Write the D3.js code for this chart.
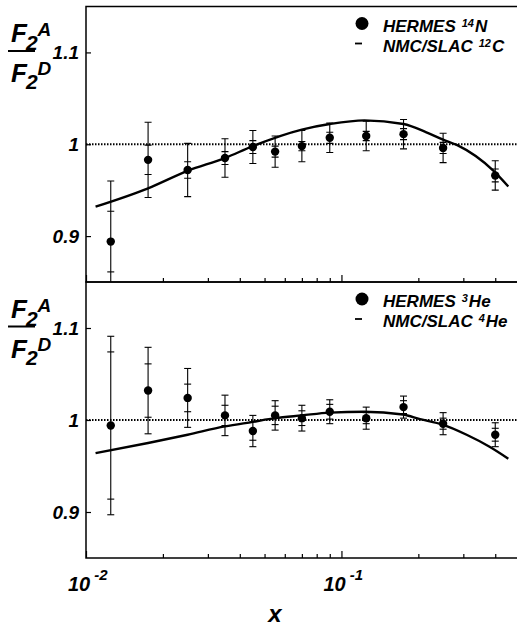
<!DOCTYPE html>
<html>
<head>
<meta charset="utf-8">
<title>F2A/F2D - HERMES vs NMC/SLAC</title>
<script src="https://d3js.org/d3.v7.min.js"></script>
<style>
  body { margin: 0; background: #fff; }
  text { font-family: "Liberation Sans", Arial, sans-serif; font-weight: bold; font-style: italic; fill: #000; }
</style>
</head>
<body>
<svg width="517" height="626"></svg>
<script>
  // x bins shared by both HERMES data sets
  const xBins = [0.0125, 0.0175, 0.025, 0.035, 0.045, 0.055, 0.070, 0.090, 0.125, 0.175, 0.25, 0.40];

  // HERMES 14N / D
  const n14Ratio = [0.894, 0.983, 0.972, 0.985, 0.997, 0.992, 0.998, 1.007, 1.009, 1.011, 0.996, 0.966];
  const n14Stat  = [0.033, 0.016, 0.009, 0.007, 0.007, 0.006, 0.005, 0.006, 0.005, 0.006, 0.006, 0.007];
  const n14Tot   = [0.066, 0.041, 0.029, 0.021, 0.018, 0.017, 0.017, 0.016, 0.016, 0.016, 0.016, 0.016];

  // HERMES 3He / D
  const he3Ratio = [0.994, 1.032, 1.024, 1.005, 0.988, 1.005, 1.002, 1.009, 1.002, 1.014, 0.996, 0.984];
  const he3Stat  = [0.080, 0.029, 0.015, 0.011, 0.010, 0.010, 0.008, 0.008, 0.006, 0.007, 0.006, 0.007];
  const he3Tot   = [0.097, 0.047, 0.032, 0.022, 0.017, 0.016, 0.014, 0.013, 0.012, 0.012, 0.012, 0.013];

  // NMC/SLAC 12C fit
  const c12X = [0.0109, 0.0175, 0.025, 0.035, 0.045, 0.070, 0.090, 0.123, 0.175, 0.215, 0.25, 0.284, 0.394, 0.45];
  const c12Y = [0.932, 0.952, 0.971, 0.985, 0.998, 1.016, 1.022, 1.026, 1.022, 1.013, 1.005, 0.999, 0.971, 0.954];

  // NMC/SLAC 4He fit
  const he4X = [0.0109, 0.0175, 0.025, 0.035, 0.045, 0.055, 0.070, 0.090, 0.123, 0.174, 0.203, 0.249, 0.309, 0.38, 0.45];
  const he4Y = [0.964, 0.975, 0.984, 0.993, 0.998, 1.002, 1.005, 1.008, 1.009, 1.006, 1.001, 0.995, 0.984, 0.971, 0.958];

  const yTicks = [0.9, 1.0, 1.1];
  const xMajor = [0.01, 0.1];
  const xMajorExp = ["-2", "-1"];
  const xMinor = [0.02, 0.03, 0.04, 0.05, 0.06, 0.07, 0.08, 0.09, 0.2, 0.3, 0.4];

  const svg = d3.select("svg");
  svg.append("rect").attr("width", 517).attr("height", 626).attr("fill", "#fff");

  const left = 86, right = 520;
  const x = d3.scaleLog().domain([0.01, 0.5]).range([left, right]);

  const panels = [
    { top: 6.5, bottom: 282, ratio: n14Ratio, stat: n14Stat, tot: n14Tot, cx: c12X, cy: c12Y,
      leg1: ["HERMES", "14", "N"], leg2: ["NMC/SLAC", "12", "C"] },
    { top: 282, bottom: 558, ratio: he3Ratio, stat: he3Stat, tot: he3Tot, cx: he4X, cy: he4Y,
      leg1: ["HERMES", "3", "He"], leg2: ["NMC/SLAC", "4", "He"] }
  ];

  // writes base + superscript + element as separate text pieces
  function isotope(parent, x0, y0, parts) {
    const a = parent.append("text").attr("x", x0).attr("y", y0).attr("font-size", 17).text(parts[0]);
    const x1 = x0 + a.node().getComputedTextLength() + 6;
    const b = parent.append("text").attr("x", x1).attr("y", y0 - 5).attr("font-size", 11).text(parts[1]);
    const x2 = x1 + b.node().getComputedTextLength() + 1;
    parent.append("text").attr("x", x2).attr("y", y0).attr("font-size", 17).text(parts[2]);
  }

  panels.forEach(function(p, pi) {
    const y = d3.scaleLinear().domain([0.85, 1.15]).range([p.bottom, p.top]);
    const g = svg.append("g");

    const clipId = "clip" + pi;
    svg.append("clipPath").attr("id", clipId)
      .append("rect").attr("x", left).attr("y", p.top).attr("width", right - left).attr("height", p.bottom - p.top);

    // dotted line at ratio 1
    g.append("line")
      .attr("x1", left).attr("x2", right)
      .attr("y1", y(1)).attr("y2", y(1))
      .attr("stroke", "#000").attr("stroke-width", 2)
      .attr("stroke-dasharray", "1.5,1.5");

    // NMC/SLAC fit
    const line = d3.line().x(d => x(d[0])).y(d => y(d[1])).curve(d3.curveMonotoneX);
    g.append("path")
      .datum(d3.zip(p.cx, p.cy))
      .attr("d", line)
      .attr("fill", "none")
      .attr("stroke", "#000")
      .attr("stroke-width", 2.4);

    // HERMES error bars and points
    const pts = g.append("g").attr("clip-path", "url(#" + clipId + ")");
    xBins.forEach(function(xv, i) {
      const px = x(xv), r = p.ratio[i];
      pts.append("line")
        .attr("x1", px).attr("x2", px)
        .attr("y1", y(r - p.tot[i])).attr("y2", y(r + p.tot[i]))
        .attr("stroke", "#000").attr("stroke-width", 1.1);
      [r - p.tot[i], r + p.tot[i], r - p.stat[i], r + p.stat[i]].forEach(function(v) {
        pts.append("line")
          .attr("x1", px - 3.5).attr("x2", px + 3.5)
          .attr("y1", y(v)).attr("y2", y(v))
          .attr("stroke", "#000").attr("stroke-width", 1.1);
      });
      pts.append("circle")
        .attr("cx", px).attr("cy", y(r)).attr("r", 4.2)
        .attr("fill", "#000");
    });

    // frame
    g.append("rect")
      .attr("x", left).attr("y", p.top)
      .attr("width", right - left).attr("height", p.bottom - p.top)
      .attr("fill", "none").attr("stroke", "#000").attr("stroke-width", 1.5);

    // y axis, ticks pointing inward
    const yAxis = g.append("g").attr("transform", "translate(" + left + ",0)")
      .call(d3.axisLeft(y).tickValues(yTicks).tickSizeInner(-5).tickSizeOuter(0).tickPadding(7)
        .tickFormat(d => d === 1 ? "1" : d3.format(".1f")(d)));
    yAxis.select(".domain").remove();
    yAxis.selectAll("line").attr("stroke-width", 1.2);
    yAxis.selectAll("text").attr("font-size", 19).attr("font-family", null);

    // x axis ticks pointing up into the panel
    const xMin = g.append("g").attr("transform", "translate(0," + p.bottom + ")")
      .call(d3.axisBottom(x).tickValues(xMinor).tickSizeInner(-4).tickSizeOuter(0).tickFormat(""));
    xMin.select(".domain").remove();
    const xMaj = g.append("g").attr("transform", "translate(0," + p.bottom + ")")
      .call(d3.axisBottom(x).tickValues(xMajor).tickSizeInner(-7).tickSizeOuter(0).tickFormat(""));
    xMaj.select(".domain").remove();
    g.selectAll(".tick line").attr("stroke-width", 1.2);

    // F2A / F2D label
    const lab = g.append("g").attr("transform", "translate(11," + p.top + ")");
    const num = lab.append("text").attr("x", 0).attr("y", 35.5).attr("font-size", 26);
    num.append("tspan").text("F");
    num.append("tspan").attr("font-size", 21).attr("dy", 8).attr("dx", -1).text("2");
    num.append("tspan").attr("font-size", 19).attr("dy", -14).attr("dx", 0).text("A");
    lab.append("line").attr("x1", -3).attr("x2", 24).attr("y1", 44.5).attr("y2", 44.5)
      .attr("stroke", "#000").attr("stroke-width", 2);
    const den = lab.append("text").attr("x", 0).attr("y", 75.5).attr("font-size", 26);
    den.append("tspan").text("F");
    den.append("tspan").attr("font-size", 21).attr("dy", 7).attr("dx", -1).text("2");
    den.append("tspan").attr("font-size", 19).attr("dy", -14).attr("dx", 0).text("D");

    // legend
    const lg = g.append("g").attr("transform", "translate(0," + p.top + ")");
    lg.append("circle").attr("cx", 362).attr("cy", 17).attr("r", 6.5).attr("fill", "#000");
    lg.append("line").attr("x1", 355).attr("x2", 362).attr("y1", 37).attr("y2", 37)
      .attr("stroke", "#000").attr("stroke-width", 1.8);
    isotope(lg, 383, 25, p.leg1);
    isotope(lg, 383, 45, p.leg2);
  });

  // x tick labels with exponents
  xMajor.forEach(function(v, i) {
    const t = svg.append("text").attr("x", x(v) - 18).attr("y", 591).attr("font-size", 20).text("10");
    svg.append("text").attr("x", x(v) - 18 + t.node().getComputedTextLength() + 4).attr("y", 580)
      .attr("font-size", 15).text(xMajorExp[i]);
  });

  // x axis title
  svg.append("text").attr("x", 275).attr("y", 622)
    .attr("text-anchor", "middle").attr("font-size", 24).text("x");
</script>
</body>
</html>
